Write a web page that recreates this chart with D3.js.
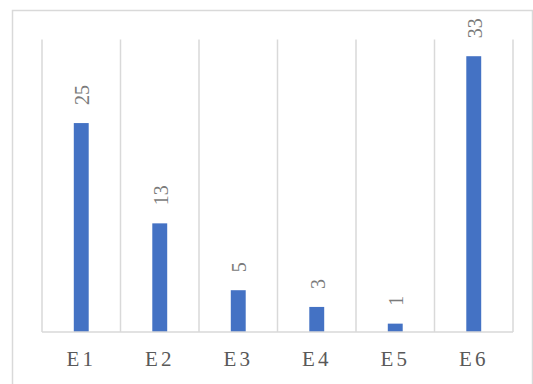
<!DOCTYPE html>
<html>
<head>
<meta charset="utf-8">
<script src="https://cdn.jsdelivr.net/npm/d3@7"></script>
<style>
  html, body { margin: 0; padding: 0; background: #ffffff; }
  svg { display: block; }
</style>
</head>
<body>
<svg id="chart" width="533" height="384"></svg>
<script>
// Category names and their counts
const categories = ["E1", "E2", "E3", "E4", "E5", "E6"];
const values = [25, 13, 5, 3, 1, 33];
const yMax = 35;

const W = 533, H = 384;
const plot = { left: 42, right: 513, top: 39.5, bottom: 332 };

const svg = d3.select("#chart");

// Outer chart frame (runs past the bottom edge)
svg.append("rect")
  .attr("x", 12.5).attr("y", 10.5)
  .attr("width", 520).attr("height", 400)
  .attr("fill", "none")
  .attr("stroke", "#d9d9d9")
  .attr("stroke-width", 1.5);

const x = d3.scaleBand()
  .domain(categories)
  .range([plot.left, plot.right])
  .padding(0);

const y = d3.scaleLinear()
  .domain([0, yMax])
  .range([plot.bottom, plot.top]);

const barW = x.bandwidth() * 0.19;

// Vertical gridlines at the category boundaries
const edges = categories.map(c => x(c)).concat([x(categories[categories.length - 1]) + x.bandwidth()]);
svg.append("g")
  .selectAll("line")
  .data(edges)
  .join("line")
  .attr("x1", d => d).attr("x2", d => d)
  .attr("y1", y(yMax)).attr("y2", y(0))
  .attr("stroke", "#d9d9d9")
  .attr("stroke-width", 1.5);

// Bars
svg.append("g")
  .selectAll("rect")
  .data(values)
  .join("rect")
  .attr("x", (d, i) => x(categories[i]) + x.bandwidth() / 2 - barW / 2)
  .attr("y", d => y(d))
  .attr("width", barW)
  .attr("height", d => y(0) - y(d))
  .attr("fill", "#4472c4");

// Baseline
svg.append("line")
  .attr("x1", plot.left).attr("x2", plot.right)
  .attr("y1", y(0)).attr("y2", y(0))
  .attr("stroke", "#d9d9d9")
  .attr("stroke-width", 1.5);

// Rotated value labels above each bar
svg.append("g")
  .selectAll("text")
  .data(values)
  .join("text")
  .attr("transform", (d, i) =>
    `translate(${x(categories[i]) + x.bandwidth() / 2 + 1},${y(d) - 18}) rotate(-90)`)
  .attr("dy", "0.35em")
  .attr("text-anchor", "start")
  .attr("font-family", "'Liberation Serif', 'Times New Roman', serif")
  .attr("font-size", 20)
  .attr("fill", "#7a7a7a")
  .text(d => d);

// Category axis labels
svg.append("g")
  .selectAll("text")
  .data(categories)
  .join("text")
  .attr("x", d => x(d) + x.bandwidth() / 2)
  .attr("y", 366)
  .attr("text-anchor", "middle")
  .attr("font-family", "'Liberation Serif', 'Times New Roman', serif")
  .attr("font-size", 21)
  .attr("letter-spacing", 3)
  .attr("fill", "#595959")
  .text(d => d);
</script>
</body>
</html>
